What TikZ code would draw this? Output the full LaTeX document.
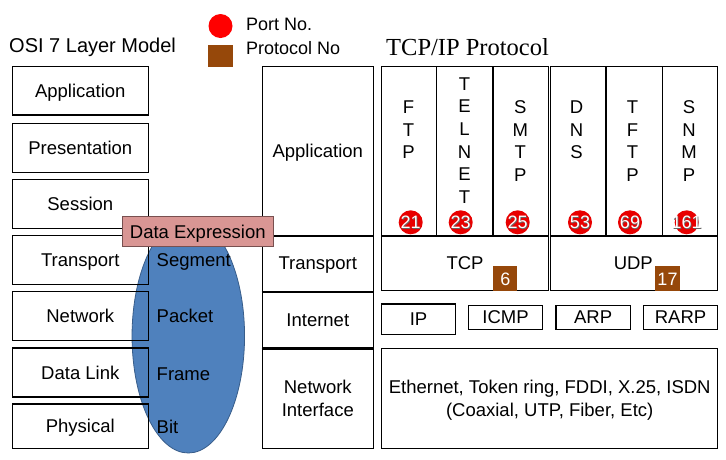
\documentclass[tikz,border=0pt]{standalone}
\usepackage{fontspec}
\setmainfont{Liberation Sans}
\newfontfamily\seriffont{Liberation Serif}
\usetikzlibrary{shapes.geometric}
\definecolor{badgered}{RGB}{232,0,0}
\definecolor{legendred}{RGB}{255,0,0}
\definecolor{protobrown}{RGB}{150,72,10}
\definecolor{ellblue}{RGB}{79,129,189}
\definecolor{ellborder}{RGB}{56,93,138}
\definecolor{labelpink}{RGB}{217,150,148}
\definecolor{labelborder}{RGB}{120,80,80}
\newcommand\fsz[1]{\fontsize{#1}{23}\selectfont}
\newcommand\pbox[7]{\node[#1, minimum width={(#5)-(#3)}, minimum height={(#6)-(#4)}] (#2) at ({((#3)+(#5))/2},{((#4)+(#6))/2}) {#7};}
\begin{document}
\begin{tikzpicture}[x=1pt,y=-1pt,
  box/.style={draw=black, line width=1.2pt, inner sep=0pt, align=center, text depth=0pt, font=\fsz{18.5}},
  vletter/.style={inner sep=0pt, text height=13pt, text depth=0pt, font=\fsz{18.5}},
  badge/.style={circle, fill=badgered, minimum size=24pt, inner sep=0pt},
  badgetext/.style={inner sep=0pt, text=white, font=\fsz{18}},
  brownsq/.style={fill=protobrown, inner sep=0pt},
  plain/.style={inner sep=0pt, align=center}]
\useasboundingbox (0,0) rectangle (726,459);
\fill[white] (0,0) rectangle (726,459);

% legend and titles
\node[plain, font=\fsz{20}, anchor=west] (osititle) at (9,47.5) {OSI 7 Layer Model};
\node[circle, fill=legendred, minimum size=24pt, inner sep=0pt] (legcircle) at (220.5,26) {};
\node[brownsq, minimum width=24.5pt, minimum height=22pt] (legsq) at (220.5,56) {};
\node[plain, font=\fsz{18}, anchor=west] (portno) at (246,24.5) {Port No.};
\node[plain, font=\fsz{18}, anchor=west] (protono) at (246,48.5) {Protocol No};
\node[plain, font=\seriffont\fsz{24.5}, anchor=west] (tcptitle) at (386,47) {TCP/IP Protocol};

% ellipse behind left column
\node[ellipse, fill=ellblue, draw=ellborder, line width=0.8pt, minimum width=112.5pt, minimum height=234pt, inner sep=0pt] (dataell) at (188.3,336) {};

% OSI layers
\pbox{box}{osiapp}{12.3}{66.5}{148.3}{115}{Application}
\pbox{box}{osipres}{12.3}{123.3}{148.3}{172.3}{Presentation}
\pbox{box}{osisess}{12.3}{179.3}{148.3}{228.3}{Session}
\pbox{box}{ositrans}{12.3}{235.3}{148.3}{284.3}{Transport}
\pbox{box}{osinet}{12.3}{291.3}{148.3}{340.3}{Network}
\pbox{box}{osidl}{12.3}{348}{148.3}{397}{Data Link}
\pbox{box}{osiphy}{12.3}{404}{148.3}{448.3}{Physical}

% data units
\node[plain, font=\fsz{18.5}, anchor=west] (segment) at (156.5,262) {Segment};
\node[plain, font=\fsz{18.5}, anchor=west] (packet) at (156.5,315.5) {Packet};
\node[plain, font=\fsz{18.5}, anchor=west] (frame) at (156.5,374) {Frame};
\node[plain, font=\fsz{18.5}, anchor=west] (bit) at (156.5,427) {Bit};

% TCP/IP layers (middle column)
\pbox{box}{tapp}{262.3}{66.3}{373.3}{235.3}{Application}
\pbox{box}{ttrans}{262.3}{235.3}{373.3}{291.3}{Transport}
\pbox{box}{tnet}{262.3}{291.3}{373.3}{348}{Internet}
\pbox{box}{tnif}{262.3}{348}{373.3}{448.3}{Network\\Interface}
\draw[line width=2pt] (tapp.south west) -- (tapp.south east);
\draw[line width=2pt] (ttrans.south west) -- (ttrans.south east);
\draw[line width=2pt] (tnet.south west) -- (tnet.south east);

% application protocols
\pbox{box}{grpa}{381.7}{66.7}{548.3}{235.3}{}
\pbox{box}{grpb}{550.3}{66.7}{717.7}{235.3}{}
\draw[line width=1.2pt] (436.7,66.7) coordinate (da1) -- (436.7,235.3) coordinate (da2);
\draw[line width=1.2pt] (493,66.7) coordinate (db1) -- (493,235.3) coordinate (db2);
\draw[line width=1.2pt] (606,66.7) coordinate (dc1) -- (606,235.3) coordinate (dc2);
\draw[line width=1.2pt] (662.3,66.7) coordinate (dd1) -- (662.3,235.3) coordinate (dd2);

\foreach \t [count=\i] in {F,T,P} \node[vletter] (ftp\i) at (408.5,{106.7+(\i-1)*22.8}) {\t};
\foreach \t [count=\i] in {T,E,L,N,E,T} \node[vletter] (telnet\i) at (464.5,{83.5+(\i-1)*22.7}) {\t};
\foreach \t [count=\i] in {S,M,T,P} \node[vletter] (smtp\i) at (520.3,{106.7+(\i-1)*22.8}) {\t};
\foreach \t [count=\i] in {D,N,S} \node[vletter] (dns\i) at (576.5,{106.7+(\i-1)*22.8}) {\t};
\foreach \t [count=\i] in {T,F,T,P} \node[vletter] (tftp\i) at (632.5,{106.7+(\i-1)*22.8}) {\t};
\foreach \t [count=\i] in {S,N,M,P} \node[vletter] (snmp\i) at (689,{106.7+(\i-1)*22.8}) {\t};

% port badges
\foreach \nm/\px/\num in {b21/410.7/21, b23/460.7/23, b25/517.7/25, b53/580/53, b69/630/69, b161/686.7/161} {
  \node[badge] (\nm) at (\px,222.3) {};
  \node[badgetext, text=black!60] (\nm s) at (\px+0.6,223.1) {\num};
  \node[badgetext] (\nm t) at (\px,222.3) {\num};
}

% transport protocols
\pbox{box}{tcp}{381.7}{236.5}{548.3}{290.7}{}
\pbox{box}{udp}{550.3}{236.5}{717.7}{290.7}{}
\node[plain, font=\fsz{18.5}] (tcplbl) at (465,263.5) {TCP};
\node[plain, font=\fsz{18.5}] (udplbl) at (633.3,263.5) {UDP};
\pbox{brownsq}{tcpno}{493.3}{266}{517.3}{290.7}{}
\pbox{brownsq}{udpno}{655}{266}{680}{290.7}{}
\node[plain, text=white, font=\fsz{18}] (tcpnum) at (505.3,279) {6};
\node[plain, text=white, font=\fsz{18}] (udpnum) at (667.5,279) {17};

% internet protocols
\pbox{box}{ip}{381.7}{304}{455.3}{334.3}{IP}
\pbox{box}{icmp}{468.3}{305.3}{542.7}{329.3}{ICMP}
\pbox{box}{arp}{556}{305.3}{630.3}{329.3}{ARP}
\pbox{box}{rarp}{643.3}{305.3}{717.7}{329.3}{RARP}

% network interface
\pbox{box}{nif}{381.7}{348.3}{717.7}{448.3}{Ethernet, Token ring, FDDI, X.25, ISDN\\(Coaxial, UTP, Fiber, Etc)}

% data expression label
\pbox{draw=labelborder, fill=labelpink, line width=0.8pt, inner sep=0pt, text depth=0pt, font=\fsz{18.5}}{dataexp}{122.3}{216.7}{273.3}{246.7}{Data Expression}
\end{tikzpicture}
\end{document}
